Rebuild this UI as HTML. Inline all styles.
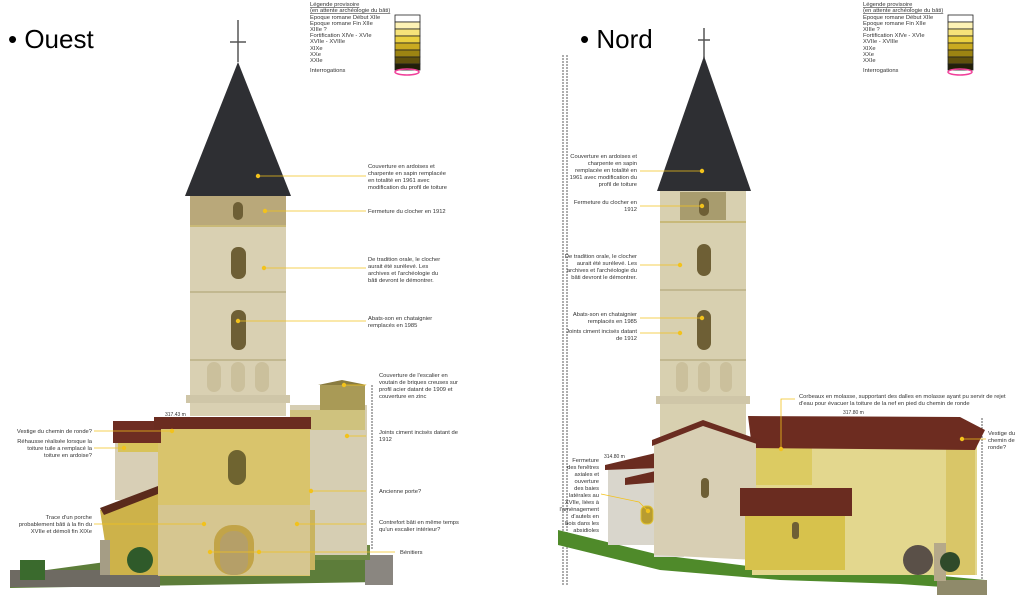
<!DOCTYPE html>
<html><head><meta charset="utf-8"><style>
body{margin:0;background:#fff;width:1024px;height:599px;overflow:hidden}
svg text{font-family:"Liberation Sans",sans-serif;fill:#333}
.t{font-size:5.8px}
.h{font-family:"Liberation Sans",sans-serif}
</style></head><body>
<svg width="1024" height="599" viewBox="0 0 1024 599" xmlns="http://www.w3.org/2000/svg">
<!-- Titles -->
<text x="8" y="48" style="font-size:26px;fill:#000">• Ouest</text>
<text x="580" y="48" style="font-size:26px;fill:#000">• Nord</text>

<!-- Legend generator -->
<g id="legL">
<text x="310" y="6" class="t" text-decoration="underline">Légende provisoire</text>
<text x="310" y="12" class="t" text-decoration="underline">(en attente archéologie du bâti)</text>
<text x="310" y="19" class="t">Epoque romane Début XIIe</text>
<text x="310" y="25" class="t">Epoque romane Fin XIIe</text>
<text x="310" y="31" class="t">XIIIe ?</text>
<text x="310" y="37" class="t">Fortification XIVe - XVIe</text>
<text x="310" y="43" class="t">XVIIe - XVIIIe</text>
<text x="310" y="50" class="t">XIXe</text>
<text x="310" y="56" class="t">XXe</text>
<text x="310" y="62" class="t">XXIe</text>
<text x="310" y="72" class="t">Interrogations</text>
<g stroke="#222" stroke-width="0.8">
<rect x="395" y="15" width="25" height="7" fill="#fff"/>
<rect x="395" y="22" width="25" height="7" fill="#fdf2b5"/>
<rect x="395" y="29" width="25" height="7" fill="#f6e37a"/>
<rect x="395" y="36" width="25" height="7" fill="#ead040"/>
<rect x="395" y="43" width="25" height="7" fill="#c9aa20"/>
<rect x="395" y="50" width="25" height="7" fill="#9c8412"/>
<rect x="395" y="57" width="25" height="7" fill="#5f500c"/>
<rect x="395" y="64" width="25" height="6" fill="#231f08"/>
</g>
<ellipse cx="407" cy="72" rx="12" ry="3" fill="none" stroke="#f0409a" stroke-width="1.5"/>
</g>
<use href="#legL" x="553" y="0"/>

<!-- ===== LEFT CHURCH ===== -->
<!-- ground -->
<polygon points="10,575 120,560 380,560 380,582 10,588" fill="#5d7d3a"/>
<rect x="10" y="570" width="150" height="17" fill="#6e6a62"/>
<rect x="365" y="555" width="28" height="30" fill="#8a8680"/>
<rect x="310" y="545" width="60" height="15" fill="#6f8a45"/>
<!-- cross -->
<line x1="238" y1="20" x2="238" y2="62" stroke="#555" stroke-width="1.5"/>
<line x1="230" y1="42" x2="246" y2="42" stroke="#555" stroke-width="1.5"/>
<!-- tower -->
<rect x="190" y="196" width="96" height="220" fill="#d9d0b2"/>
<rect x="190" y="196" width="96" height="30" fill="#b9a87a"/>
<line x1="190" y1="226" x2="286" y2="226" stroke="#c9b978" stroke-width="2"/>
<line x1="190" y1="292" x2="286" y2="292" stroke="#c2b890" stroke-width="2"/>
<line x1="190" y1="360" x2="286" y2="360" stroke="#c2b890" stroke-width="2"/>
<rect x="186" y="395" width="104" height="8" fill="#cfc6a8"/>
<rect x="233" y="202" width="10" height="18" rx="5" fill="#6e5f35"/>
<rect x="231" y="247" width="15" height="32" rx="7" fill="#6e5f35"/>
<rect x="231" y="310" width="15" height="40" rx="7" fill="#6e5f35"/>
<g fill="#cbc09c"><rect x="207" y="362" width="14" height="30" rx="7"/><rect x="231" y="362" width="14" height="30" rx="7"/><rect x="255" y="362" width="14" height="30" rx="7"/></g>
<!-- spire -->
<polygon points="238,62 185,196 291,196" fill="#2e2f33"/>
<!-- right annex -->
<rect x="290" y="405" width="77" height="150" fill="#d6ceb3"/>
<rect x="320" y="385" width="45" height="30" fill="#a99a56"/>
<polygon points="318,385 342,380 367,385" fill="#8a7c40"/>
<rect x="290" y="410" width="75" height="20" fill="#cfc27e"/>
<rect x="283" y="510" width="32" height="60" fill="#c9b460"/>
<!-- left side wall -->
<rect x="115" y="440" width="45" height="60" fill="#d8cfb6"/>
<rect x="118" y="442" width="40" height="10" fill="#d8c35a"/>
<!-- lean-to -->
<polygon points="100,510 158,488 158,575 110,575" fill="#cdb24a"/>
<polygon points="100,508 158,486 158,494 104,515" fill="#5a2a1c"/>
<!-- facade -->
<rect x="158" y="428" width="152" height="148" fill="#d9c46c"/>
<rect x="158" y="505" width="152" height="70" fill="#d6c690"/>
<rect x="228" y="450" width="18" height="35" rx="9" fill="#6f6430"/>
<rect x="214" y="525" width="40" height="50" rx="18" fill="#c2a448"/>
<rect x="220" y="531" width="28" height="44" rx="13" fill="#b59f68"/>
<!-- roofs -->
<rect x="113" y="421" width="48" height="22" fill="#6e2d22"/>
<rect x="154" y="417" width="157" height="12" fill="#6b2c20"/>
<!-- bushes -->
<circle cx="140" cy="560" r="13" fill="#2f5a2a"/>
<rect x="100" y="540" width="10" height="35" fill="#a59d85"/>
<rect x="20" y="560" width="25" height="20" fill="#3a6a2d"/>
<!-- dashed -->
<line x1="372" y1="385" x2="372" y2="550" stroke="#333" stroke-dasharray="2,1" stroke-width="0.8"/>

<!-- left annotation lines -->
<g stroke="#f2c21c" stroke-width="0.8" fill="#f2c21c">
<line x1="258" y1="176" x2="366" y2="176"/><circle cx="258" cy="176" r="1.8"/>
<line x1="265" y1="211" x2="366" y2="211"/><circle cx="265" cy="211" r="1.8"/>
<line x1="264" y1="268" x2="366" y2="268"/><circle cx="264" cy="268" r="1.8"/>
<line x1="238" y1="321" x2="366" y2="321"/><circle cx="238" cy="321" r="1.8"/>
<line x1="344" y1="385" x2="366" y2="385"/><circle cx="344" cy="385" r="1.8"/>
<line x1="347" y1="436" x2="366" y2="436"/><circle cx="347" cy="436" r="1.8"/>
<line x1="311" y1="491" x2="366" y2="491"/><circle cx="311" cy="491" r="1.8"/>
<line x1="297" y1="524" x2="366" y2="524"/><circle cx="297" cy="524" r="1.8"/>
<line x1="210" y1="552" x2="395" y2="552"/><circle cx="210" cy="552" r="1.8"/><circle cx="259" cy="552" r="1.8"/>
<line x1="94" y1="431" x2="172" y2="431"/><circle cx="172" cy="431" r="1.8"/>
<line x1="94" y1="448" x2="124" y2="448"/><circle cx="124" cy="448" r="1.8"/>
<line x1="94" y1="524" x2="204" y2="524"/><circle cx="204" cy="524" r="1.8"/>
</g>
<g class="t">
<text x="368" y="168" class="t">Couverture en ardoises et</text>
<text x="368" y="175" class="t">charpente en sapin remplacée</text>
<text x="368" y="182" class="t">en totalité en 1961 avec</text>
<text x="368" y="189" class="t">modification du profil de toiture</text>
<text x="368" y="213" class="t">Fermeture du clocher en 1912</text>
<text x="368" y="261" class="t">De tradition orale, le clocher</text>
<text x="368" y="268" class="t">aurait été surélevé. Les</text>
<text x="368" y="275" class="t">archives et l'archéologie du</text>
<text x="368" y="282" class="t">bâti devront le démontrer.</text>
<text x="368" y="320" class="t">Abats-son en chataignier</text>
<text x="368" y="327" class="t">remplacés en 1985</text>
<text x="379" y="377" class="t">Couverture de l'escalier en</text>
<text x="379" y="384" class="t">voutain de briques creuses sur</text>
<text x="379" y="391" class="t">profil acier datant de 1909 et</text>
<text x="379" y="398" class="t">couverture en zinc</text>
<text x="379" y="434" class="t">Joints ciment incisés datant de</text>
<text x="379" y="441" class="t">1912</text>
<text x="379" y="493" class="t">Ancienne porte?</text>
<text x="379" y="524" class="t">Contrefort bâti en même temps</text>
<text x="379" y="531" class="t">qu'un escalier intérieur?</text>
<text x="400" y="554" class="t">Bénitiers</text>
<text x="92" y="433" class="t" text-anchor="end">Vestige du chemin de ronde?</text>
<text x="92" y="443" class="t" text-anchor="end">Réhausse réalisée lorsque la</text>
<text x="92" y="450" class="t" text-anchor="end">toiture tuile a remplacé la</text>
<text x="92" y="457" class="t" text-anchor="end">toiture en ardoise?</text>
<text x="92" y="519" class="t" text-anchor="end">Trace d'un porche</text>
<text x="92" y="526" class="t" text-anchor="end">probablement bâti à la fin du</text>
<text x="92" y="533" class="t" text-anchor="end">XVIIe et démoli fin XIXe</text>
<text x="165" y="416" style="font-size:5px">317.43 m</text>
</g>

<!-- ===== RIGHT CHURCH ===== -->
<line x1="563" y1="55" x2="563" y2="585" stroke="#333" stroke-dasharray="2,1" stroke-width="0.8"/>
<line x1="567" y1="55" x2="567" y2="585" stroke="#333" stroke-dasharray="2,1" stroke-width="0.8"/>
<line x1="982" y1="418" x2="982" y2="590" stroke="#333" stroke-dasharray="2,1" stroke-width="0.8"/>
<!-- ground -->
<polygon points="558,530 660,555 780,570 900,572 985,580 985,590 900,584 780,580 660,570 558,545" fill="#4f8a2a"/>
<rect x="937" y="580" width="50" height="15" fill="#8f8a6a"/>
<!-- tower -->
<rect x="660" y="190" width="86" height="250" fill="#d8d0b0"/>
<rect x="680" y="192" width="46" height="28" fill="#a89c6e"/>
<line x1="660" y1="222" x2="746" y2="222" stroke="#c8b97a" stroke-width="2"/>
<line x1="660" y1="290" x2="746" y2="290" stroke="#c2b890" stroke-width="2"/>
<line x1="660" y1="360" x2="746" y2="360" stroke="#c2b890" stroke-width="2"/>
<rect x="656" y="396" width="94" height="8" fill="#cfc6a8"/>
<rect x="699" y="198" width="10" height="18" rx="5" fill="#6e5f35"/>
<rect x="697" y="244" width="14" height="32" rx="7" fill="#6e5f35"/>
<rect x="697" y="310" width="14" height="40" rx="7" fill="#6e5f35"/>
<g fill="#cbc09c"><rect x="676" y="362" width="12" height="30" rx="6"/><rect x="698" y="362" width="12" height="30" rx="6"/><rect x="720" y="362" width="12" height="30" rx="6"/></g>
<line x1="704" y1="28" x2="704" y2="58" stroke="#555" stroke-width="1.5"/>
<line x1="698" y1="40" x2="710" y2="40" stroke="#555" stroke-width="1.5"/>
<polygon points="704,56 657,191 751,191" fill="#2e2f33"/>
<!-- nave -->
<rect x="752" y="445" width="225" height="130" fill="#e3d78e"/>
<rect x="752" y="445" width="60" height="40" fill="#dccb62"/>
<polygon points="946,420 975,428 975,575 946,575" fill="#d9c668"/>
<polygon points="748,416 960,417 985,430 975,450 752,448" fill="#6d2c20"/>
<!-- apses -->
<rect x="608" y="465" width="50" height="80" fill="#d9d6cc"/>
<polygon points="605,465 660,452 660,468 605,470" fill="#6a2c20"/>
<polygon points="625,478 660,470 660,482 625,485" fill="#6a2c20"/>
<rect x="654" y="465" width="30" height="92" fill="#e0ddd6"/>
<polygon points="654,440 703,422 756,440 756,560 654,555" fill="#d8cfb4"/>
<polygon points="652,440 703,420 760,440 760,445 703,426 652,446" fill="#6a2c20"/>
<rect x="701" y="478" width="8" height="20" rx="4" fill="#6e5f35"/>
<rect x="641" y="506" width="12" height="18" rx="5" fill="#b89c30" stroke="#e0c230"/>
<!-- lower aisle -->
<rect x="745" y="515" width="100" height="55" fill="#d7c24c"/>
<polygon points="740,488 852,488 852,516 740,516" fill="#6a2c20"/>
<rect x="792" y="522" width="7" height="17" rx="3" fill="#6e5f35"/>
<!-- stones -->
<circle cx="918" cy="560" r="15" fill="#5a5048"/>
<rect x="934" y="543" width="12" height="38" fill="#b5a98a"/>
<circle cx="950" cy="562" r="10" fill="#2f4a2a"/>

<g stroke="#f2c21c" stroke-width="0.8" fill="#f2c21c">
<line x1="640" y1="171" x2="702" y2="171"/><circle cx="702" cy="171" r="1.8"/>
<line x1="640" y1="206" x2="702" y2="206"/><circle cx="702" cy="206" r="1.8"/>
<line x1="640" y1="265" x2="680" y2="265"/><circle cx="680" cy="265" r="1.8"/>
<line x1="640" y1="318" x2="702" y2="318"/><circle cx="702" cy="318" r="1.8"/>
<line x1="640" y1="333" x2="680" y2="333"/><circle cx="680" cy="333" r="1.8"/>
<polyline points="781,449 781,399 795,399" fill="none"/><circle cx="781" cy="449" r="1.8"/>
<line x1="962" y1="439" x2="986" y2="439"/><circle cx="962" cy="439" r="1.8"/>
<polyline points="601,494 639,502 648,511" fill="none"/><circle cx="648" cy="511" r="1.8"/>
</g>
<g>
<text x="637" y="158" class="t" text-anchor="end">Couverture en ardoises et</text>
<text x="637" y="165" class="t" text-anchor="end">charpente en sapin</text>
<text x="637" y="172" class="t" text-anchor="end">remplacée en totalité en</text>
<text x="637" y="179" class="t" text-anchor="end">1961 avec modification du</text>
<text x="637" y="186" class="t" text-anchor="end">profil de toiture</text>
<text x="637" y="204" class="t" text-anchor="end">Fermeture du clocher en</text>
<text x="637" y="211" class="t" text-anchor="end">1912</text>
<text x="637" y="258" class="t" text-anchor="end">De tradition orale, le clocher</text>
<text x="637" y="265" class="t" text-anchor="end">aurait été surélevé. Les</text>
<text x="637" y="272" class="t" text-anchor="end">archives et l'archéologie du</text>
<text x="637" y="279" class="t" text-anchor="end">bâti devront le démontrer.</text>
<text x="637" y="316" class="t" text-anchor="end">Abats-son en chataignier</text>
<text x="637" y="323" class="t" text-anchor="end">remplacés en 1985</text>
<text x="637" y="333" class="t" text-anchor="end">Joints ciment incisés datant</text>
<text x="637" y="340" class="t" text-anchor="end">de 1912</text>
<text x="799" y="398" class="t">Corbeaux en molasse, supportant des dalles en molasse ayant pu servir de rejet</text>
<text x="799" y="405" class="t">d'eau pour évacuer la toiture de la nef en pied du chemin de ronde</text>
<text x="988" y="435" class="t">Vestige du</text>
<text x="988" y="442" class="t">chemin de</text>
<text x="988" y="449" class="t">ronde?</text>
<text x="599" y="462" class="t" text-anchor="end">Fermeture</text>
<text x="599" y="469" class="t" text-anchor="end">des fenêtres</text>
<text x="599" y="476" class="t" text-anchor="end">axiales et</text>
<text x="599" y="483" class="t" text-anchor="end">ouverture</text>
<text x="599" y="490" class="t" text-anchor="end">des baies</text>
<text x="599" y="497" class="t" text-anchor="end">latérales au</text>
<text x="599" y="504" class="t" text-anchor="end">XVIIe, liées à</text>
<text x="599" y="511" class="t" text-anchor="end">l'aménagement</text>
<text x="599" y="518" class="t" text-anchor="end">d'autels en</text>
<text x="599" y="525" class="t" text-anchor="end">bois dans les</text>
<text x="599" y="532" class="t" text-anchor="end">absidioles</text>
<text x="843" y="414" style="font-size:5px">317.80 m</text>
<text x="604" y="458" style="font-size:5px">314.80 m</text>
</g>
</svg>
</body></html>
